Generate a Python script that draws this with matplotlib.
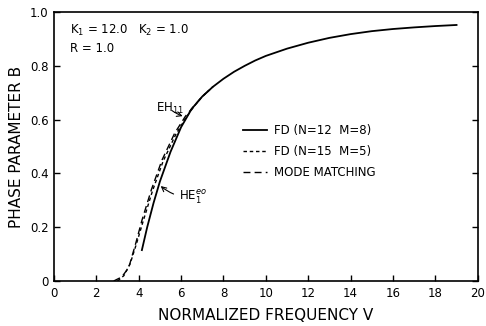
"""Phase parameter B versus normalized frequency V."""
import matplotlib

matplotlib.use("Agg")
from matplotlib import pyplot as plt

# FD (N=12, M=8), solid
v_fd12 = [4.15, 4.4, 4.7, 5.0, 5.5, 6.0, 6.5, 7.0, 7.5, 8.0, 8.5, 9.0, 9.5,
          10.0, 11.0, 12.0, 13.0, 14.0, 15.0, 16.0, 17.0, 18.0, 19.0]
b_fd12 = [0.115, 0.2, 0.29, 0.37, 0.48, 0.572, 0.64, 0.686, 0.722, 0.752,
          0.778, 0.8, 0.82, 0.837, 0.864, 0.886, 0.904, 0.918, 0.929, 0.937,
          0.943, 0.948, 0.952]

# FD (N=15, M=5), short dashes
v_fd15 = [3.0, 3.3, 3.6, 3.9, 4.2, 4.65, 5.15, 5.75, 6.25, 6.6, 7.0, 7.5]
b_fd15 = [0.0, 0.02, 0.065, 0.14, 0.22, 0.335, 0.445, 0.545, 0.61, 0.648,
          0.686, 0.722]

# mode matching, long dashes
v_mm = [2.82, 3.2, 3.53, 3.86, 4.15, 4.6, 5.1, 5.7, 6.2, 6.6, 7.0, 7.5]
b_mm = [0.0, 0.015, 0.05, 0.14, 0.225, 0.34, 0.45, 0.55, 0.612, 0.65,
        0.686, 0.722]

x_ticks = [0, 2, 4, 6, 8, 10, 12, 14, 16, 18, 20]
y_ticks = [0, 0.2, 0.4, 0.6, 0.8, 1.0]
y_ticklabels = ["0", "0.2", "0.4", "0.6", "0.8", "1.0"]

plt.rcParams["font.family"] = "DejaVu Sans"

fig = plt.figure(figsize=(4.86, 3.26), dpi=100)
ax = fig.add_axes([0.111, 0.138, 0.872, 0.825])

ax.plot(v_fd12, b_fd12, color="black", lw=1.3, label="FD (N=12  M=8)")
ax.plot(v_fd15, b_fd15, color="black", lw=1.0, ls=(0, (2.5, 2)),
        label="FD (N=15  M=5)")
ax.plot(v_mm, b_mm, color="black", lw=1.0, ls=(0, (5, 3)),
        label="MODE MATCHING")

ax.set_xlim(0, 20)
ax.set_ylim(0, 1.0)
ax.set_xticks(x_ticks)
ax.set_yticks(y_ticks)
ax.set_yticklabels(y_ticklabels)
ax.tick_params(direction="in", right=True, top=False, length=4, width=1,
               labelsize=8.5, pad=4)
for side in ax.spines.values():
    side.set_linewidth(1.2)

ax.set_xlabel("NORMALIZED FREQUENCY V", fontsize=11, labelpad=6)
ax.set_ylabel("PHASE PARAMETER B", fontsize=11, labelpad=4)

ax.text(0.75, 0.93, "K$_1$ = 12.0   K$_2$ = 1.0", fontsize=8.5, va="center")
ax.text(0.75, 0.865, "R = 1.0", fontsize=8.5, va="center")

ax.annotate("EH$_{11}$", xy=(6.2, 0.61), xytext=(4.8, 0.64),
            fontsize=8.5, va="center",
            arrowprops=dict(arrowstyle="->", color="black", lw=0.8,
                            connectionstyle="arc3,rad=0.1"))
ax.annotate("HE$_1^{eo}$", xy=(4.94, 0.36), xytext=(5.9, 0.31),
            fontsize=8.5, va="center",
            arrowprops=dict(arrowstyle="->", color="black", lw=0.8,
                            connectionstyle="arc3,rad=-0.2"))

ax.legend(loc="upper left", bbox_to_anchor=(0.435, 0.6), frameon=False,
          fontsize=8.5, handlelength=2.0, handletextpad=0.6,
          labelspacing=0.65, borderaxespad=0)

fig.savefig("out.png", dpi=100)
